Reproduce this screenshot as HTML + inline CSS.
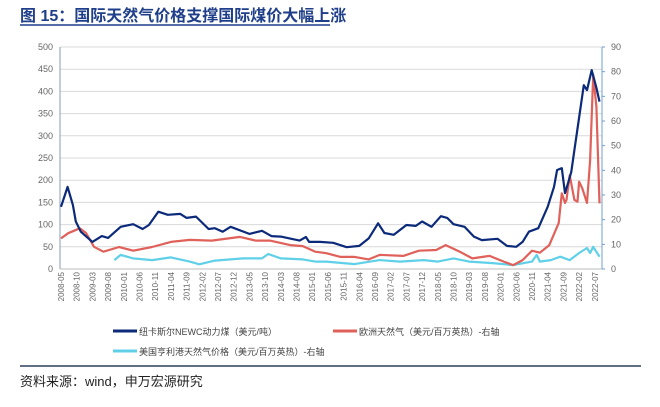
<!DOCTYPE html>
<html><head><meta charset="utf-8"><style>
body{margin:0;background:#fff;width:660px;height:402px;overflow:hidden;font-family:"Liberation Sans","Noto Sans CJK SC",sans-serif;}
</style></head><body>
<svg width="660" height="402" xmlns="http://www.w3.org/2000/svg">
<text x="20" y="21" font-size="16" font-weight="bold" fill="#1f3f8a" font-family="'Liberation Sans','Noto Sans CJK SC',sans-serif">图 15：国际天然气价格支撑国际煤价大幅上涨</text>
<line x1="20" y1="25" x2="330" y2="25" stroke="#1f3f8a" stroke-width="1.5"/>
<g id="grid"></g><g id="axes"></g><g id="series"></g><g id="legend"></g>
<line x1="20" y1="366" x2="641" y2="366" stroke="#2d3e5c" stroke-width="1.5"/>
<text x="20" y="386" font-size="13" fill="#222">资料来源：wind，申万宏源研究</text>
</svg>
<script>
const months=["2008-05","2008-10","2009-03","2009-08","2010-01","2010-06","2010-11","2011-04","2011-09","2012-02","2012-07","2012-12","2013-05","2013-10","2014-03","2014-08","2015-01","2015-06","2015-11","2016-04","2016-09","2017-02","2017-07","2017-12","2018-05","2018-10","2019-03","2019-08","2020-01","2020-06","2020-11","2021-04","2021-09","2022-02","2022-07"];
const leftTicks=[0,50,100,150,200,250,300,350,400,450,500];
const rightTicks=[0,10,20,30,40,50,60,70,80,90];
// month index since 2008-05
const coalT=[0,2.1,3.8,4.7,6.3,10,13,15,19,23,26,28,31,34,38,40,43,47,49,51.5,54,60,64,67,70,76,78,79,82.5,86.7,91,95,98,101,103,106,110,113,115,118,121,123,125,128.5,131.5,134,139,142,145,147,149,152,155,157,158,159.5,160.5,161.5,162.5,163.5,166.5,167.5,169,170.5,171.5];
const coalV=[140,185,144,107,84,61,74,70,95,101,90,99,129,122,124,115,118,90,92,84,95,79,86,74,73,64,72,61,61,59,49,52,69,103,81,77,99,97,107,95,119,115,101,95,73,65,68,52,50,61,84,92,140,185,223,227,171,194,219,268,414,403,448,408,377];
const euT=[0,2.3,6,8,10.5,13.5,18.5,23,29,35,41,48,57,62,66.5,73,77,81,84.5,89,93.5,98,101.5,109,114,119.5,122.5,127,131,136.5,141,144,147,150,152.5,155.5,158.5,159.5,160.5,161,162,163.5,164.5,165,166,167.5,168.5,169.5,170.5,171.5];
const euV=[12.4,14.5,16.5,14.6,9,7,8.9,7.4,8.9,11,11.8,11.5,13,11.5,11.5,9.7,9.3,7,6.4,4.9,4.9,3.9,5.7,5.3,7.4,7.7,9.7,7,4.3,5.3,3,1.6,3.6,7.4,6.6,9.7,18.6,30.7,26.8,28,38,28,27.3,35.4,32.8,26.8,44,78.6,65.8,26.6];
const usT=[17,19,23,29,35,41,44,49,58,64,66,70,77,81,84.5,93.5,101.5,108,115.5,120,125,130,137.5,144,150,151.5,152.5,156,159,162,165,167.5,168.5,169.5,171.5];
const usV=[3.6,5.7,4.3,3.6,4.7,3,1.9,3.4,4.3,4.3,6.1,4.3,3.9,3,3,2,3.6,3,3.6,3,4.3,3,2.4,1.6,3,5.7,3,3.6,5,3.6,6.5,8.5,6.5,9,5];
const NS="http://www.w3.org/2000/svg";
const X0=60,X1=602,Y0=269,Y1=47;
const xs=m=>61+m*3.14;
const yl=v=>Y0-(v/500)*(Y0-Y1);
const yr=v=>Y0-(v/90)*(Y0-Y1);
function mk(tag,attrs,parent){const e=document.createElementNS(NS,tag);for(const k in attrs)e.setAttribute(k,attrs[k]);document.getElementById(parent).appendChild(e);return e;}
leftTicks.forEach(v=>{
 if(v>0){const g=mk('line',{x1:X0,x2:X1,y1:yl(v),y2:yl(v),stroke:'#d9d9d9','stroke-width':1},'grid');
 
 }
 const t=mk('text',{x:53,y:yl(v)+3,'font-size':9,fill:'#666','text-anchor':'end'},'axes');t.textContent=v;
 
 
});
rightTicks.forEach(v=>{
 const t=mk('text',{x:611,y:yr(v)+3,'font-size':9,fill:'#666'},'axes');t.textContent=v;
 
 
 mk('line',{x1:X1,x2:X1+3,y1:yr(v),y2:yr(v),stroke:'#6fa0d0'},'axes');
});
let a=mk('line',{x1:X0,x2:X0,y1:Y1,y2:Y0,stroke:'#8a9bb5'},'axes');


a=mk('line',{x1:X1,x2:X1,y1:Y1,y2:Y0,stroke:'#6fa0d0'},'axes');


a=mk('line',{x1:X0,x2:X1,y1:Y0,y2:Y0,stroke:'#bbb'},'axes');


months.forEach((m,i)=>{
 const x=xs(i*5);
 if(x>X1)return;
 const t=mk('text',{x:0,y:0,'font-size':8,fill:'#666','text-anchor':'end',transform:`translate(${x+3},272) rotate(-90)`},'axes');t.textContent=m;
 
 
});
function line(T,V,fy,color,name){
 const d=T.map((m,i)=>(i?'L':'M')+xs(m).toFixed(1)+','+fy(V[i]).toFixed(1)).join('');
 const p=mk('path',{d:d,fill:'none',stroke:color,'stroke-width':2.2,'stroke-linejoin':'round'},'series');
 
 
}
line(usT,usV,yr,'#5fd0e8','us-gas-line');
line(euT,euV,yr,'#e0605a','eu-gas-line');
line(coalT,coalV,yl,'#0c2a7a','newc-coal-line');
const leg=[[113,335,'#0c2a7a','纽卡斯尔NEWC动力煤（美元/吨）','legend-coal'],[333,335,'#e0605a','欧洲天然气（美元/百万英热）-右轴','legend-eu-gas'],[113,355,'#5fd0e8','美国亨利港天然气价格（美元/百万英热）-右轴','legend-us-gas']];
leg.forEach(l=>{
 const g=mk('g',{},'legend');
 
 
 const ln=document.createElementNS(NS,'line');
 [['x1',l[0]],['x2',l[0]+24],['y1',l[1]-4],['y2',l[1]-4],['stroke',l[2]],['stroke-width',3]].forEach(p=>ln.setAttribute(p[0],p[1]));
 g.appendChild(ln);
 const t=document.createElementNS(NS,'text');
 t.setAttribute('x',l[0]+26);t.setAttribute('y',l[1]);t.setAttribute('font-size',9);t.setAttribute('fill','#444');
 t.textContent=l[3];g.appendChild(t);
});
</script>
</body></html>
